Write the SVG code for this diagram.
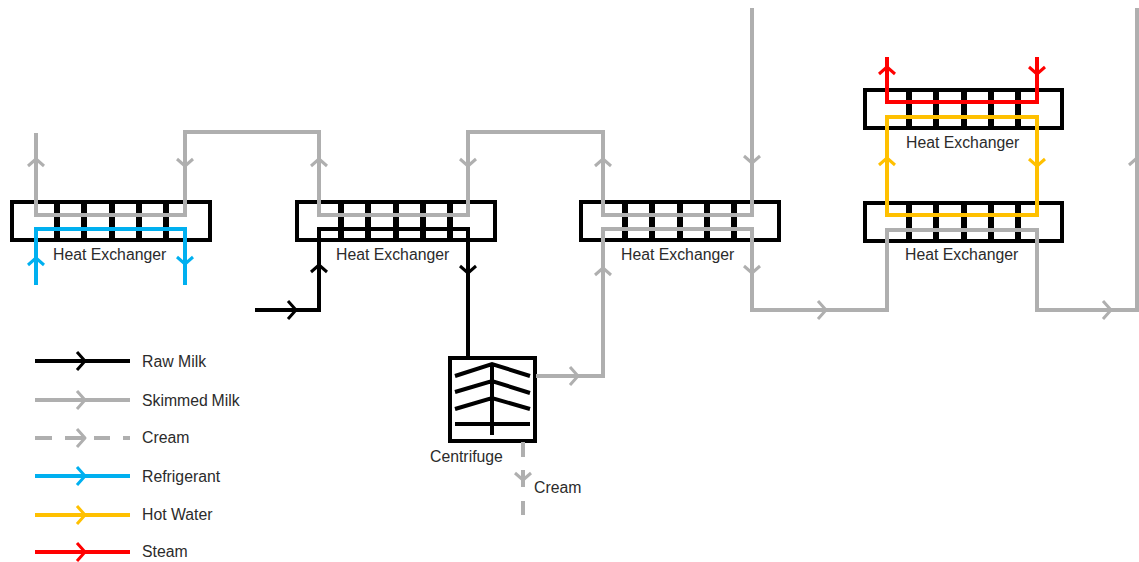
<svg xmlns="http://www.w3.org/2000/svg" width="1139" height="562" viewBox="0 0 1139 562">
<style>
.box{fill:none;stroke:#000;stroke-width:4}
.bar{stroke:#000;stroke-width:6;fill:none}
.thin{stroke:#000;stroke-width:4;fill:none}
.l{fill:none;stroke-width:4;stroke-linejoin:miter}
.a{fill:none;stroke-width:3;stroke-linejoin:round}
.k{stroke:#000}.g{stroke:#afafaf}.b{stroke:#00b0f0}.y{stroke:#ffc000}.r{stroke:#f00}
text{font-family:"Liberation Sans",Arial,sans-serif;font-size:15.8px;fill:#2b2b2b;white-space:pre}
</style>
<defs>
<path id="bars" d="M45 0V38M72 0V38M100 0V38M127 0V38M154 0V38"/>
<path id="up" d="M-8 7L0 0L8 7"/>
<path id="down" d="M-8 -7L0 0L8 -7"/>
<path id="right" d="M-8 -9L0 0L-8 9"/>
</defs>
<rect width="1139" height="562" fill="#fff"/>
<g id="hx1"><rect class="box" x="12" y="202" width="198" height="38"/><use href="#bars" class="bar" x="12" y="202"/><text x="53" y="260">Heat Exchanger</text></g>
<g id="hx2"><rect class="box" x="297" y="202" width="198" height="38"/><use href="#bars" class="bar" x="296" y="202"/><text x="336" y="260">Heat Exchanger</text></g>
<g id="hx3"><rect class="box" x="581" y="202" width="198" height="38"/><use href="#bars" class="bar" x="580" y="202"/><text x="621" y="260">Heat Exchanger</text></g>
<g id="hx4"><rect class="box" x="865" y="203" width="197" height="38"/><use href="#bars" class="bar" x="864" y="203"/><text x="905" y="260">Heat Exchanger</text></g>
<g id="hx5"><rect class="box" x="865" y="90" width="197" height="38"/><use href="#bars" class="bar" x="864" y="90"/><text x="906" y="148">Heat Exchanger</text></g>
<g id="centrifuge">
<rect class="box" x="450" y="358" width="85" height="83"/>
<path class="thin" d="M492 364V435M455 376L492 364L530 376M455 392L492 381L530 393M455 409L492 398L530 409M455 424H530"/>
<text x="430" y="462">Centrifuge</text>
</g>
<g id="connectors">
<path class="l g" d="M36 133V215H185V132H319V215H468V132H603V215H752V8"/>
<path class="l g" d="M536 376H603V229H752V310H887V230H1037V310H1137V8"/>
<path class="l k" d="M255 310H319V229H468V358"/>
<path class="l b" d="M36 285V229H185V285"/>
<path class="l y" d="M887 215V117H1037V215H887Z"/>
<path class="l r" d="M887 57V102H1037V57"/>
<path class="l g" d="M523 442V457M523 470V487M523 501V515"/>
<use href="#up" class="a g" x="36" y="159"/>
<use href="#down" class="a g" x="185" y="166"/>
<use href="#up" class="a g" x="319" y="159"/>
<use href="#down" class="a g" x="468" y="166"/>
<use href="#up" class="a g" x="603" y="159"/>
<use href="#down" class="a g" x="752" y="163"/>
<use href="#up" class="a g" x="603" y="268"/>
<use href="#down" class="a g" x="752" y="273"/>
<use href="#right" class="a g" x="826" y="310"/>
<use href="#right" class="a g" x="1111" y="310"/>
<use href="#up" class="a g" x="1137" y="158"/>
<use href="#right" class="a g" x="578" y="376"/>
<use href="#down" class="a g" x="523" y="480"/>
<use href="#up" class="a b" x="36" y="258"/>
<use href="#down" class="a b" x="185" y="264"/>
<use href="#up" class="a k" x="319" y="265"/>
<use href="#right" class="a k" x="296" y="310"/>
<use href="#down" class="a k" x="468" y="273"/>
<use href="#up" class="a r" x="887" y="67"/>
<use href="#down" class="a r" x="1037" y="74"/>
<use href="#up" class="a y" x="887" y="158"/>
<use href="#down" class="a y" x="1037" y="166"/>
</g>
<g id="legend">
<path class="l k" d="M35 361H130"/><use href="#right" class="a k" x="85" y="361"/><text x="142" y="366.500">Raw Milk</text>
<path class="l g" d="M35 400H130"/><use href="#right" class="a g" x="85" y="400"/><text x="142" y="405.500" word-spacing="-2.500">Skimmed  Milk</text>
<path class="l g" d="M35 438H52M65 438H85M94 438H110M123 438H130"/><use href="#right" class="a g" x="85" y="438"/><text x="142" y="443">Cream</text>
<path class="l b" d="M35 476H130"/><use href="#right" class="a b" x="85" y="476"/><text x="142" y="481.500">Refrigerant</text>
<path class="l y" d="M35 515H130"/><use href="#right" class="a y" x="85" y="515"/><text x="142" y="519.500">Hot Water</text>
<path class="l r" d="M35 552H130"/><use href="#right" class="a r" x="85" y="552"/><text x="142" y="556.500">Steam</text>
</g>
<text id="cream-label" x="534" y="493">Cream</text>
</svg>
